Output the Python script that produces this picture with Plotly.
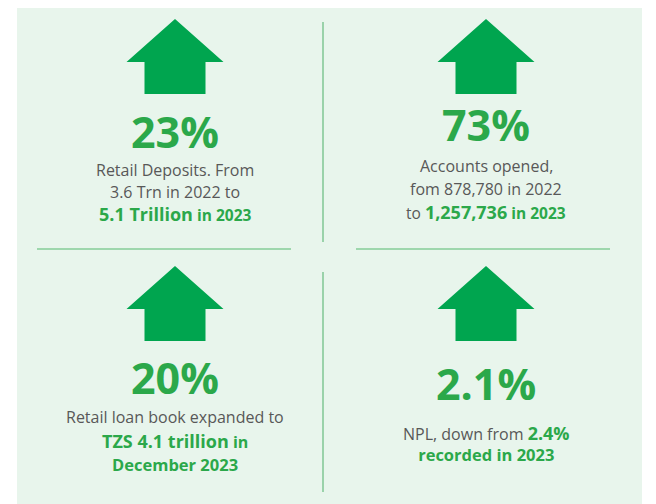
import plotly.graph_objects as go

# Données de l'infographie
headlines = ["23%", "73%", "20%", "2.1%"]
desc_retail_deposits = [
    "Retail Deposits. From",
    "3.6 Trn in 2022 to",
    "<b><span style='font-size:18px'>5.1 Trillion</span> in 2023</b>",
]
desc_accounts = [
    "Accounts opened,",
    "fom 878,780 in 2022",
    "to <b><span style='color:#2BA84A;font-size:18px'>1,257,736</span>"
    "<span style='color:#2BA84A'> in 2023</span></b>",
]
desc_loans = [
    "Retail loan book expanded to",
    "<b><span style='font-size:18px'>TZS 4.1 trillion</span> in</b>",
    "<b>December 2023</b>",
]
# deux lignes dans un seul bloc de texte
desc_npl = [
    "NPL, down from <b><span style='color:#2BA84A;font-size:18px'>2.4%</span></b><br>"
    "<b><span style='color:#2BA84A;font-size:16.5px'>recorded in 2023</span></b>",
]
descriptions = [desc_retail_deposits, desc_accounts, desc_loans, desc_npl]
# couleur et taille de chaque ligne
desc_colors = [
    ["#585858", "#585858", "#2BA84A"],
    ["#585858", "#585858", "#585858"],
    ["#585858", "#2BA84A", "#2BA84A"],
    ["#585858"],
]
desc_sizes = [
    [16, 16, 15.5],
    [16, 16, 15.5],
    [16, 16, 16.5],
    [16],
]

# Mise en page des cellules (coordonnées en pixels de la fenêtre)
cell_x = [175, 486, 175, 486]
arrow_top = [19, 19, 266, 266]
headline_y = [131, 124, 377, 383]
desc_y = [[170, 192, 214], [166, 189, 212], [417, 441, 464], [443]]

GREEN = "#00A54F"
TEXT_GREEN = "#2BA84A"
OFFSET = 8  # marge du <body> de la page html

fig = go.Figure()

shapes = [
    # fond vert clair
    dict(type="rect", x0=17, x1=700, y0=4, y1=600, fillcolor="#E8F5EC",
         line=dict(width=0), layer="below"),
    dict(type="rect", x0=642, x1=700, y0=0, y1=600, fillcolor="white",
         line=dict(width=0), layer="below"),
    # séparateurs
    dict(type="line", x0=323, x1=323, y0=22, y1=242, line=dict(color="#4DAF68", width=1)),
    dict(type="line", x0=323, x1=323, y0=272, y1=492, line=dict(color="#4DAF68", width=1)),
    dict(type="line", x0=37, x1=291, y0=249, y1=249, line=dict(color="#86CC98", width=1.5)),
    dict(type="line", x0=356, x1=610, y0=249, y1=249, line=dict(color="#86CC98", width=1.5)),
]

# Flèches
for cx, ty in zip(cell_x, arrow_top):
    path = (f"M {cx} {ty} L {cx + 48.5} {ty + 43} L {cx + 30.5} {ty + 43} "
            f"L {cx + 30.5} {ty + 75} L {cx - 30.5} {ty + 75} L {cx - 30.5} {ty + 43} "
            f"L {cx - 48.5} {ty + 43} Z")
    shapes.append(dict(type="path", path=path, fillcolor=GREEN, line=dict(width=0)))

annotations = []
for i, pct in enumerate(headlines):
    annotations.append(dict(
        x=cell_x[i], y=headline_y[i], text=f"<b>{pct}</b>", showarrow=False,
        font=dict(family="Open Sans", size=43, color=TEXT_GREEN),
        xanchor="center", yanchor="middle",
    ))
    for line, y, col, sz in zip(descriptions[i], desc_y[i], desc_colors[i], desc_sizes[i]):
        annotations.append(dict(
            x=cell_x[i], y=y, text=line, showarrow=False,
            font=dict(family="Open Sans", size=sz, color=col),
            xanchor="center", yanchor="middle",
        ))

fig.update_layout(
    width=656 - OFFSET, height=504 - OFFSET,
    margin=dict(l=0, r=0, t=0, b=0),
    paper_bgcolor="white", plot_bgcolor="white",
    xaxis=dict(range=[OFFSET, 656], visible=False, fixedrange=True),
    yaxis=dict(range=[504, OFFSET], visible=False, fixedrange=True),
    shapes=shapes, annotations=annotations,
    showlegend=False,
)

fig.write_html("out.html")
